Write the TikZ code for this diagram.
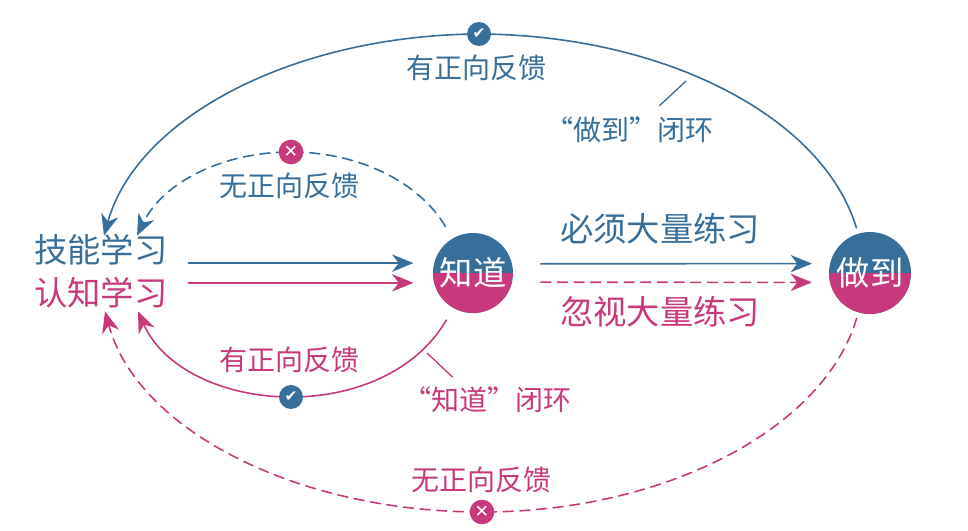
\documentclass[tikz,border=0pt]{standalone}
\usepackage{fontspec}
\newfontfamily\cjkfont{Noto Sans CJK SC}
\newfontfamily\tickfont{DejaVu Sans}
\usetikzlibrary{arrows.meta}
\definecolor{skillblue}{RGB}{56,111,154}
\definecolor{knowpink}{RGB}{200,56,124}

\begin{document}
\begin{tikzpicture}[x=0.75pt, y=-0.75pt, line cap=round, line join=round, line width=1.2pt,
    >={Stealth[length=16pt, width=13pt, inset=5pt]},
    every node/.style={font=\cjkfont\fontsize{25}{30}\selectfont, inner sep=0pt},
    smalltext/.style={font=\cjkfont\fontsize{21}{25}\selectfont},
    ball/.style={circle, minimum size=60pt, fill=skillblue, text=white,
      path picture={\fill[knowpink] (path picture bounding box.west) rectangle (path picture bounding box.south east);}},
    okdot/.style={circle, minimum size=18pt, fill=skillblue, text=white, font=\tickfont\fontsize{11.5}{11.5}\selectfont},
    nodot/.style={circle, minimum size=18.5pt, fill=knowpink, text=white, font=\tickfont\fontsize{13}{13}\selectfont},
    dashline/.style={dash pattern=on 7.5pt off 5pt}]
    \useasboundingbox (0,0) rectangle (968,531);

    \node[text=skillblue] (jineng) at (101,250) {技能学习};
    \node[text=knowpink] (renzhi) at (101,293) {认知学习};
    \node[ball] (zhidao) at (473,273) {知道};
    \node[ball, minimum size=61.5pt] (zuodao) at (870,273) {做到};
    \node[text=skillblue] (bixu) at (660,229) {必须大量练习};
    \node[text=knowpink] (hushi) at (660,312) {忽视大量练习};

    \coordinate (okTopPt) at (479,34);
    \coordinate (noTopPt) at (291,152);
    \coordinate (okBotPt) at (291,397);
    \coordinate (noBotPt) at (482,512);
    \coordinate (tickTop) at (686,81);
    \coordinate (tickBot) at (427,353);

    \draw[->, skillblue, shorten >=15pt] ([xshift=15pt]jineng.east |- zhidao.166) -- (zhidao.166);
    \draw[->, knowpink, shorten >=15pt] ([xshift=15pt]renzhi.east |- zhidao.194) -- (zhidao.194);
    \draw[->, skillblue, shorten <=21pt, shorten >=13pt] (zhidao.13) -- (zuodao.167);
    \draw[->, knowpink, dashline, shorten <=21pt, shorten >=13pt] (zhidao.-13) -- (zuodao.193);

    \draw[->, skillblue, shorten <=4pt] (zuodao) .. controls (823,117) and (665,35) .. (okTopPt)
      .. controls (295,35) and (137,117) .. ([xshift=2.25pt, yshift=-1.5pt]jineng.north);
    \draw[->, skillblue, dashline, shorten <=10pt] (zhidao) .. controls (419,182) and (359,152) .. (noTopPt)
      .. controls (223,152) and (163,182) .. ([xshift=27pt, yshift=-1.5pt]jineng.north);
    \draw[->, knowpink, shorten <=10pt] (zhidao) .. controls (419,368) and (359,397) .. (okBotPt)
      .. controls (223,397) and (163,368) .. ([xshift=27.75pt, yshift=-1.5pt]renzhi.south);
    \draw[->, knowpink, dashline, shorten <=4pt] (zuodao) .. controls (824,429) and (665,512) .. (noBotPt)
      .. controls (295,512) and (137,429) .. ([xshift=3pt, yshift=-1.5pt]renzhi.south);

    \node[okdot] (okTop) at (okTopPt) {✔};
    \node[nodot] (noTop) at (noTopPt) {✕};
    \node[okdot] (okBot) at (okBotPt) {✔};
    \node[nodot] (noBot) at (noBotPt) {✕};

    \node[smalltext, text=skillblue] (fbTop) at (476,68) {有正向反馈};
    \node[smalltext, text=skillblue] (fbNoTop) at (289,186) {无正向反馈};
    \node[smalltext, text=knowpink] (fbBot) at (289,360) {有正向反馈};
    \node[smalltext, text=knowpink] (fbNoBot) at (481,480) {无正向反馈};
    \node[smalltext, text=skillblue] (loopTop) at (629,130) {“做到”闭环};
    \node[smalltext, text=knowpink] (loopBot) at (487,400) {“知道”闭环};

    \draw[skillblue, line width=1pt] ([xshift=23pt, yshift=8pt]loopTop.north) -- (tickTop);
    \draw[knowpink, line width=1pt] ([xshift=-26pt, yshift=7pt]loopBot.north) -- (tickBot);
  \end{tikzpicture}
\end{document}
